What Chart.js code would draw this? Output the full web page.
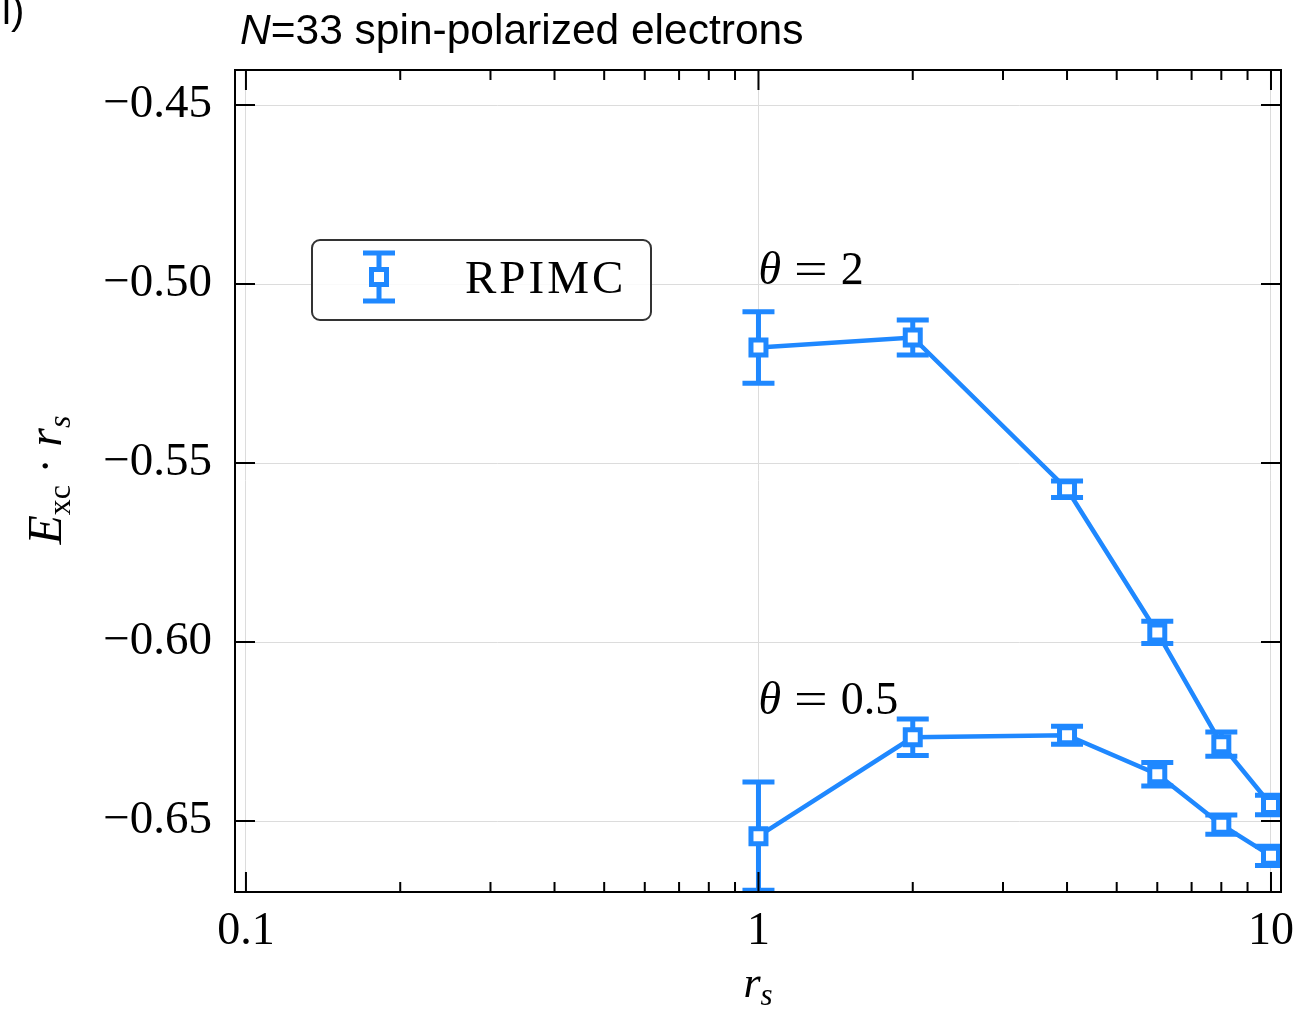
<!DOCTYPE html>
<html>
<head>
<meta charset="utf-8">
<script src="https://cdn.jsdelivr.net/npm/chart.js@4.4.0/dist/chart.umd.min.js"></script>
<style>
  html, body { margin: 0; padding: 0; background: #fff; }
  #wrap { width: 1307px; height: 1009px; position: relative; }
</style>
</head>
<body>
<div id="wrap"><canvas id="c"></canvas></div>
<script>
// ---- data ----
const rs = [1, 2, 4, 6, 8, 10];
const excTheta2  = [-0.5177, -0.5149, -0.5573, -0.5973, -0.6285, -0.6455];
const errTheta2  = [0.0100, 0.0049, 0.0023, 0.0031, 0.0034, 0.0027];
const excTheta05 = [-0.6542, -0.6266, -0.6260, -0.6369, -0.6510, -0.6597];
const errTheta05 = [0.0151, 0.0051, 0.0025, 0.0033, 0.0027, 0.0027];
const xTickValues = [0.1, 1, 10];
const yTickValues = [-0.65, -0.60, -0.55, -0.50, -0.45];
const seriesLabel = 'RPIMC';
const titleItalic = 'N';
const titleRest = '=33 spin-polarized electrons';
const annotations = [
  { x: 1, y: -0.500, sym: 'θ', rest: '2' },
  { x: 1, y: -0.620, sym: 'θ', rest: '0.5' }
];

const blue = '#1f88ff';
const serif = "'Liberation Serif', 'DejaVu Serif', serif";
const sans = "'Liberation Sans', Arial, sans-serif";

function mkDataset(ys, errs) {
  return {
    label: seriesLabel,
    data: rs.map((x, i) => ({ x: x, y: ys[i] })),
    errors: errs,
    showLine: true,
    borderColor: blue,
    borderWidth: 4.5,
    pointStyle: 'rect',
    pointRadius: 10.6,
    pointHoverRadius: 10.6,
    pointBorderWidth: 5,
    pointBackgroundColor: '#ffffff',
    pointBorderColor: blue,
    tension: 0
  };
}

const errorBarPlugin = {
  id: 'errorBars',
  beforeDatasetsDraw(chart) {
    const { ctx, chartArea, scales } = chart;
    ctx.save();
    ctx.beginPath();
    ctx.rect(chartArea.left, chartArea.top, chartArea.right - chartArea.left, chartArea.bottom - chartArea.top);
    ctx.clip();
    ctx.strokeStyle = blue;
    ctx.lineWidth = 5;
    chart.data.datasets.forEach(ds => {
      ds.data.forEach((p, i) => {
        const e = ds.errors[i];
        const px = scales.x.getPixelForValue(p.x);
        const y1 = scales.y.getPixelForValue(p.y + e);
        const y2 = scales.y.getPixelForValue(p.y - e);
        ctx.beginPath();
        ctx.moveTo(px, y1); ctx.lineTo(px, y2);
        ctx.moveTo(px - 16, y1); ctx.lineTo(px + 16, y1);
        ctx.moveTo(px - 16, y2); ctx.lineTo(px + 16, y2);
        ctx.stroke();
      });
    });
    ctx.restore();
  }
};

const framePlugin = {
  id: 'frame',
  afterDatasetsDraw(chart) {
    const { ctx, chartArea: a, scales } = chart;
    ctx.save();
    ctx.strokeStyle = '#000';
    ctx.lineWidth = 2;
    ctx.strokeRect(a.left, a.top, a.right - a.left, a.bottom - a.top);
    ctx.beginPath();
    xTickValues.forEach(v => {
      const px = scales.x.getPixelForValue(v);
      ctx.moveTo(px, a.bottom); ctx.lineTo(px, a.bottom - 20);
      ctx.moveTo(px, a.top); ctx.lineTo(px, a.top + 20);
    });
    for (let d = 0; d < xTickValues.length - 1; d++) {
      for (let m = 2; m <= 9; m++) {
        const v = xTickValues[d] * m;
        const px = scales.x.getPixelForValue(v);
        ctx.moveTo(px, a.bottom); ctx.lineTo(px, a.bottom - 10);
        ctx.moveTo(px, a.top); ctx.lineTo(px, a.top + 10);
      }
    }
    yTickValues.forEach(v => {
      const py = scales.y.getPixelForValue(v);
      ctx.moveTo(a.left, py); ctx.lineTo(a.left + 20, py);
      ctx.moveTo(a.right, py); ctx.lineTo(a.right - 20, py);
    });
    ctx.stroke();
    ctx.restore();
  },
  afterDraw(chart) {
    const { ctx, chartArea: a, scales } = chart;
    ctx.save();
    ctx.fillStyle = '#000';
    ctx.textBaseline = 'alphabetic';
    ctx.textAlign = 'left';
    // panel letter (clipped at the page edge)
    ctx.font = '40px ' + sans;
    ctx.fillText('l)', 2, 24);
    // title
    ctx.font = 'italic 42.5px ' + sans;
    ctx.fillText(titleItalic, 240, 44);
    const wN = ctx.measureText(titleItalic).width;
    ctx.font = '42.5px ' + sans;
    ctx.fillText(titleRest, 240 + wN, 44);

    // annotations
    annotations.forEach(an => {
      const px = scales.x.getPixelForValue(an.x);
      const py = scales.y.getPixelForValue(an.y);
      ctx.font = 'italic 46px ' + serif;
      ctx.fillText(an.sym, px, py);
      let w = ctx.measureText(an.sym).width + 13;
      ctx.font = '46px ' + serif;
      ctx.save();
      ctx.translate(px + w, py);
      ctx.scale(1.3, 1);
      ctx.fillText('=', 0, 0);
      ctx.restore();
      w += ctx.measureText('=').width * 1.3 + 13;
      ctx.fillText(an.rest, px + w, py);
    });

    // legend
    const lx = a.left + 77, ly = a.top + 170, lw = 339, lh = 80;
    ctx.beginPath();
    ctx.roundRect(lx, ly, lw, lh, 8);
    ctx.fillStyle = 'rgba(255,255,255,0.85)';
    ctx.fill();
    ctx.strokeStyle = '#333';
    ctx.lineWidth = 2;
    ctx.stroke();
    const mx = lx + 67, my = ly + 37;
    ctx.strokeStyle = blue;
    ctx.lineWidth = 5;
    ctx.beginPath();
    ctx.moveTo(mx, my - 24); ctx.lineTo(mx, my + 24);
    ctx.moveTo(mx - 16, my - 24); ctx.lineTo(mx + 16, my - 24);
    ctx.moveTo(mx - 16, my + 24); ctx.lineTo(mx + 16, my + 24);
    ctx.stroke();
    ctx.fillStyle = '#fff';
    ctx.fillRect(mx - 7.5, my - 7.5, 15, 15);
    ctx.strokeRect(mx - 7.5, my - 7.5, 15, 15);
    ctx.fillStyle = '#000';
    ctx.font = '47px ' + serif;
    ctx.letterSpacing = '3px';
    ctx.fillText(seriesLabel, lx + 153, ly + 53);
    ctx.letterSpacing = '0px';

    // x axis title r_s
    const xc = (a.left + a.right) / 2;
    ctx.font = 'italic 44px ' + serif;
    const wr = ctx.measureText('r').width;
    ctx.font = 'italic 31px ' + serif;
    const ws = ctx.measureText('s').width;
    const x0 = xc - (wr + ws) / 2;
    ctx.font = 'italic 44px ' + serif;
    ctx.fillText('r', x0, 997);
    ctx.font = 'italic 31px ' + serif;
    ctx.fillText('s', x0 + wr, 1005);

    // y axis title E_xc · r_s
    ctx.translate(61, 480);
    ctx.rotate(-Math.PI / 2);
    const parts = [
      { t: 'E', f: 'italic 48px ' + serif, dy: 0 },
      { t: 'xc', f: '32px ' + serif, dy: 9 },
      { t: ' · ', f: '46px ' + serif, dy: 0 },
      { t: 'r', f: 'italic 48px ' + serif, dy: 0 },
      { t: 's', f: 'italic 32px ' + serif, dy: 9 }
    ];
    let total = 0;
    parts.forEach(p => { ctx.font = p.f; p.w = ctx.measureText(p.t).width; total += p.w; });
    let cx = -total / 2;
    parts.forEach(p => { ctx.font = p.f; ctx.fillText(p.t, cx, p.dy); cx += p.w; });
    ctx.restore();
  }
};

new Chart(document.getElementById('c'), {
  type: 'scatter',
  data: { datasets: [mkDataset(excTheta2, errTheta2), mkDataset(excTheta05, errTheta05)] },
  options: {
    responsive: true,
    maintainAspectRatio: false,
    animation: false,
    layout: { padding: { top: 70, right: 26, left: 0, bottom: 0 } },
    plugins: { legend: { display: false }, title: { display: false }, tooltip: { enabled: false } },
    scales: {
      x: {
        type: 'logarithmic',
        min: 0.0952, max: 10.46,
        afterBuildTicks: s => { s.ticks = xTickValues.map(v => ({ value: v })); },
        afterFit: s => { s.height = 117; },
        ticks: {
          autoSkip: false, maxRotation: 0, padding: 12, color: '#000',
          font: { family: serif, size: 46 },
          callback: v => String(v)
        },
        grid: { color: '#dcdcdc', lineWidth: 1, drawTicks: false },
        border: { display: true, color: '#000', width: 2 }
      },
      y: {
        type: 'linear',
        min: -0.6698, max: -0.4402,
        afterBuildTicks: s => { s.ticks = yTickValues.map(v => ({ value: v })); },
        afterFit: s => { s.width = 235; },
        ticks: {
          padding: 23, color: '#000',
          font: { family: serif, size: 47 },
          callback: v => '\u2212' + Math.abs(v).toFixed(2)
        },
        grid: { color: '#dcdcdc', lineWidth: 1, drawTicks: false },
        border: { display: true, color: '#000', width: 2 }
      }
    }
  },
  plugins: [errorBarPlugin, framePlugin]
});
</script>
</body>
</html>
